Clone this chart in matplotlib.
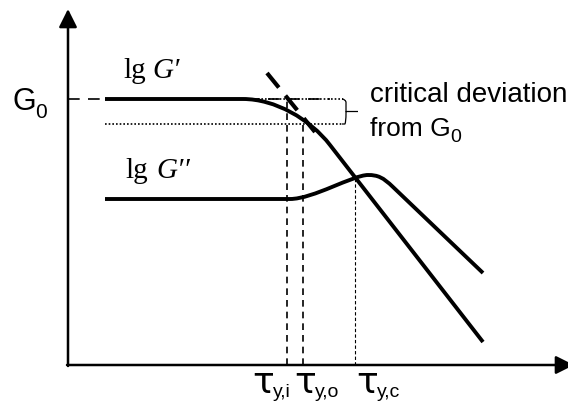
import matplotlib
matplotlib.use("Agg")
import matplotlib.pyplot as plt
from matplotlib.path import Path
from matplotlib.patches import PathPatch

# Schematic in arbitrary units: x ~ lg(tau), y ~ lg(G), origin at the axes corner
# storage modulus G': plateau, smooth knee (cubic Bezier), straight decay
gp_x = [37, 175, 207, 242, 262, 415]
gp_y = [266, 266, 266, 246, 220, 23]
# loss modulus G'': plateau, rise to a peak, knee, straight decay
gpp_x = [37, 222, 245, 285, 300, 310, 315, 325, 415]
gpp_y = [166, 166, 166, 190, 190, 190, 187.6, 178, 92]

g0 = 266            # plateau level G0
g_crit = 241        # G0 minus the critical deviation
tangent_x = [199, 247]
tangent_y = [292, 233]
tau_i, tau_o, tau_c = 219, 235, 287
g_cross = 187       # G' = G'' at tau_y,c

tau_labels = [(184, r"y,i"), (226, r"y,o"), (288, r"y,c")]

fig = plt.figure(figsize=(5.68, 4.09), dpi=100)
ax = fig.add_axes([0, 0, 1, 1])
ax.set_xlim(-68, 500)
ax.set_ylim(-44, 365)
ax.axis("off")

# axes with arrow heads
arrow = dict(arrowstyle="-|>,head_length=1.0,head_width=0.5", mutation_scale=11,
             lw=1.8, color="black", shrinkA=0, shrinkB=0)
ax.annotate("", xy=(0, 356), xytext=(0, -1), arrowprops=arrow, annotation_clip=False)
ax.annotate("", xy=(506, 0), xytext=(-1, 0), arrowprops=arrow, annotation_clip=False)

# reference levels and bracket
ax.plot([0, 262], [g0, g0], color="black", lw=1.2, dashes=(7, 5))
ax.plot([175, 275], [g0, g0], color="black", lw=1.2, dashes=(1, 1.2))
ax.plot([37, 275], [g_crit, g_crit], color="black", lw=1.2, dashes=(1, 1.2))
brace = Path([(274, g0), (277, g0), (278, g0 - 3), (278, g0 - 10), (278, g0 - 12.5), (290, g0 - 12.5),
              (278, g0 - 12.5), (278, g_crit + 10), (278, g_crit + 3), (277, g_crit), (274, g_crit)],
             [Path.MOVETO, Path.CURVE3, Path.CURVE3, Path.LINETO, Path.LINETO, Path.LINETO,
              Path.MOVETO, Path.LINETO, Path.CURVE3, Path.CURVE3, Path.LINETO])
ax.add_patch(PathPatch(brace, fill=False, lw=0.9, color="black"))

# tangent to the decay and the characteristic stresses
ax.plot(tangent_x, tangent_y, color="black", lw=3, dashes=(4.5, 2.5), solid_capstyle="butt")
ax.plot([tau_i, tau_i], [0, g0], color="black", lw=1.2, dashes=(4, 3))
ax.plot([tau_o, tau_o], [0, g_crit], color="black", lw=1.2, dashes=(4, 3))
ax.plot([tau_c, tau_c], [0, g_cross], color="black", lw=0.8, dashes=(3, 2))

# moduli curves
gp_codes = [Path.MOVETO, Path.LINETO, Path.CURVE4, Path.CURVE4, Path.CURVE4, Path.LINETO]
gpp_codes = [Path.MOVETO, Path.LINETO, Path.CURVE4, Path.CURVE4, Path.CURVE4,
             Path.CURVE4, Path.CURVE4, Path.CURVE4, Path.LINETO]
for xs, ys, codes in [(gp_x, gp_y, gp_codes), (gpp_x, gpp_y, gpp_codes)]:
    ax.add_patch(PathPatch(Path(list(zip(xs, ys)), codes), fill=False, lw=2.8,
                           color="black", capstyle="butt", joinstyle="round"))

# labels
sans = "Liberation Sans"
serif = ["Liberation Serif", "DejaVu Serif"]
ax.text(-55, 255, "G", fontsize=22, family=sans, va="baseline")
ax.text(-33, 247, "0", fontsize=15, family=sans, va="baseline")
ax.text(55, 287, "lg", fontsize=21, family=serif, va="baseline")
ax.text(84, 287, "G\u2032", fontsize=21, family=serif, style="italic", va="baseline")
ax.text(57, 187, "lg", fontsize=21, family=serif, va="baseline")
ax.text(88, 187, "G\u2032\u2032", fontsize=21, family=serif, style="italic", va="baseline")
ax.text(302, 263, "critical deviation", fontsize=20, family=sans, va="baseline")
ax.text(302, 229, "from G", fontsize=19, family=sans, va="baseline")
ax.text(382, 223, "0", fontsize=14, family=sans, va="baseline")
for x, sub in tau_labels:
    ax.text(x, -28, "\u03c4", fontsize=26, family="DejaVu Sans", va="baseline")
    ax.text(x + 21, -32, sub, fontsize=14, family=sans, va="baseline")

fig.savefig("out.png", dpi=100)
